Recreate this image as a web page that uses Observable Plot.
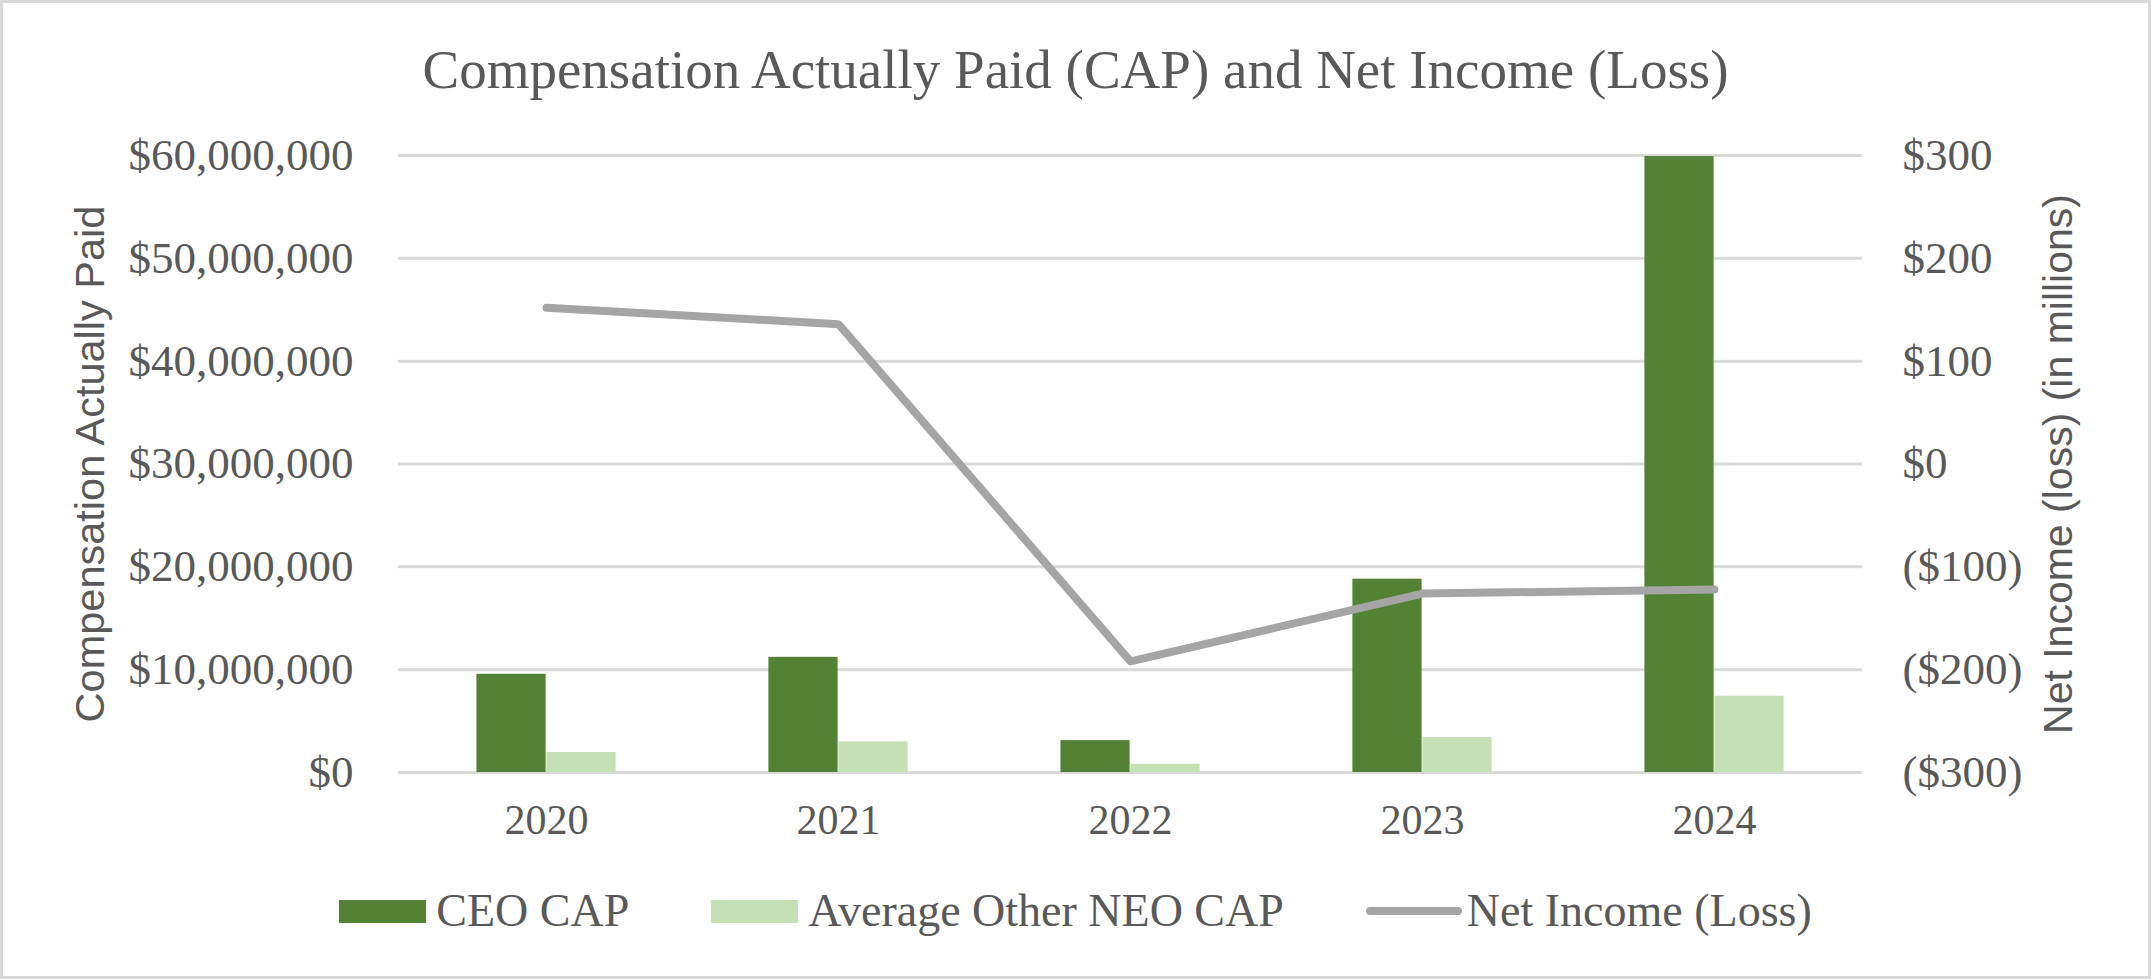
<!DOCTYPE html>
<html>
<head>
<meta charset="utf-8">
<script src="https://cdn.jsdelivr.net/npm/d3@7"></script>
<script src="https://cdn.jsdelivr.net/npm/@observablehq/plot@0.6"></script>
<style>
  html, body { margin: 0; padding: 0; background: #fff; }
  #wrap { position: relative; width: 2151px; height: 979px; overflow: hidden; background: #fff; }
  #frame { position: absolute; left: 0; top: 0; width: 2151px; height: 979px; box-sizing: border-box; border: 3px solid #d9d9d9; pointer-events: none; }
  #title { position: absolute; left: 0; top: 42px; width: 2151px; text-align: center; font-family: "Liberation Serif", serif; font-size: 55px; line-height: 1; color: #595959; white-space: nowrap; }
  #chart { position: absolute; left: 0; top: 120px; }
  #legend { position: absolute; left: 0; top: 880px; width: 2151px; height: 62px; display: flex; justify-content: center; align-items: center; font-family: "Liberation Serif", serif; font-size: 46px; line-height: 1; color: #595959; white-space: nowrap; }
  .item { display: flex; align-items: center; margin: 0 41px; }
  .sw { display: inline-block; width: 87px; height: 23px; margin-right: 10px; }
  .ln { display: inline-block; width: 96px; height: 8px; border-radius: 4px; margin-right: 5px; }
</style>
</head>
<body>
<div id="wrap">
  <div id="title"></div>
  <div id="chart"></div>
  <div id="legend"></div>
  <div id="frame"></div>
</div>
<script>
// ---- data ----
const title = "Compensation Actually Paid (CAP) and Net Income (Loss)";
const years = ["2020", "2021", "2022", "2023", "2024"];
const ceoCap = [9550000, 11200000, 3100000, 18800000, 59900000];
const otherNeoCap = [1950000, 2980000, 800000, 3400000, 7420000];
const netIncome = [152, 136, -192, -126, -122]; // $ millions
const seriesNames = ["CEO CAP", "Average Other NEO CAP", "Net Income (Loss)"];
const leftTicks = [0, 10000000, 20000000, 30000000, 40000000, 50000000, 60000000];
const rightTicks = [-300, -200, -100, 0, 100, 200, 300];
const leftLabel = "Compensation Actually Paid";
const rightLabel = "Net Income (loss) (in millions)";

const colors = { ceo: "#548235", other: "#c5e0b4", line: "#a5a5a5", grid: "#d9d9d9", text: "#595959" };

// right axis (-300..300) mapped onto the left axis (0..60M)
const leftMax = 60000000, rMin = -300, rMax = 300;
const toLeft = v => (v - rMin) / (rMax - rMin) * leftMax;
const fromLeft = d => Math.round(d / leftMax * (rMax - rMin) + rMin);

const table = years.map((y, i) => ({ year: y, ceo: ceoCap[i], other: otherNeoCap[i], ni: netIncome[i] }));

const W = 2151, H = 740, mL = 398, mR = 289, mT = 35, mB = 88;
const bw = (W - mL - mR) / years.length;
const barW = 70;

const fmtLeft = d => "$" + d3.format(",")(d);
const fmtRight = v => v < 0 ? `($${-v})` : `$${v}`;

const chart = Plot.plot({
  width: W,
  height: H,
  marginLeft: mL,
  marginRight: mR,
  marginTop: mT,
  marginBottom: mB,
  style: { fontFamily: "Liberation Serif, serif", fontSize: "45px", color: colors.text, background: "transparent" },
  x: { domain: years, padding: 0, label: null },
  y: { domain: [0, leftMax], label: null },
  marks: [
    Plot.gridY(leftTicks, { stroke: colors.grid, strokeOpacity: 1, strokeWidth: 3 }),
    Plot.barY(table, { x: "year", y: "ceo", fill: colors.ceo, insetLeft: bw / 2 - barW, insetRight: bw / 2 }),
    Plot.barY(table, { x: "year", y: "other", fill: colors.other, insetLeft: bw / 2, insetRight: bw / 2 - barW }),
    Plot.line(table, { x: "year", y: d => toLeft(d.ni), stroke: colors.line, strokeWidth: 8, strokeLinecap: "round", strokeLinejoin: "round" }),
    Plot.axisY(leftTicks, { anchor: "left", tickSize: 0, tickPadding: 45, tickFormat: fmtLeft, label: null, fontSize: 45 }),
    Plot.axisY(rightTicks.map(toLeft), { anchor: "right", tickSize: 0, tickPadding: 40, tickFormat: d => fmtRight(fromLeft(d)), label: null, fontSize: 45 }),
    Plot.axisX({ tickSize: 0, tickPadding: 32, label: null, fontSize: 42 }),
    Plot.text([leftLabel], { text: d => d, frameAnchor: "left", dx: -308, rotate: -90, textAnchor: "middle", lineAnchor: "middle", fontFamily: "Liberation Sans, sans-serif", fontSize: 41.5, fill: colors.text }),
    Plot.text([rightLabel], { text: d => d, frameAnchor: "right", dx: 196, rotate: -90, textAnchor: "middle", lineAnchor: "middle", fontFamily: "Liberation Sans, sans-serif", fontSize: 41, fill: colors.text })
  ]
});
document.getElementById("chart").appendChild(chart);
document.getElementById("title").textContent = title;

// legend
const legend = document.getElementById("legend");
const swatches = [
  { name: seriesNames[0], cls: "sw", color: colors.ceo },
  { name: seriesNames[1], cls: "sw", color: colors.other },
  { name: seriesNames[2], cls: "ln", color: colors.line }
];
for (const s of swatches) {
  const item = document.createElement("div");
  item.className = "item";
  const sw = document.createElement("span");
  sw.className = s.cls;
  sw.style.background = s.color;
  const label = document.createElement("span");
  label.textContent = s.name;
  item.appendChild(sw);
  item.appendChild(label);
  legend.appendChild(item);
}
</script>
</body>
</html>
